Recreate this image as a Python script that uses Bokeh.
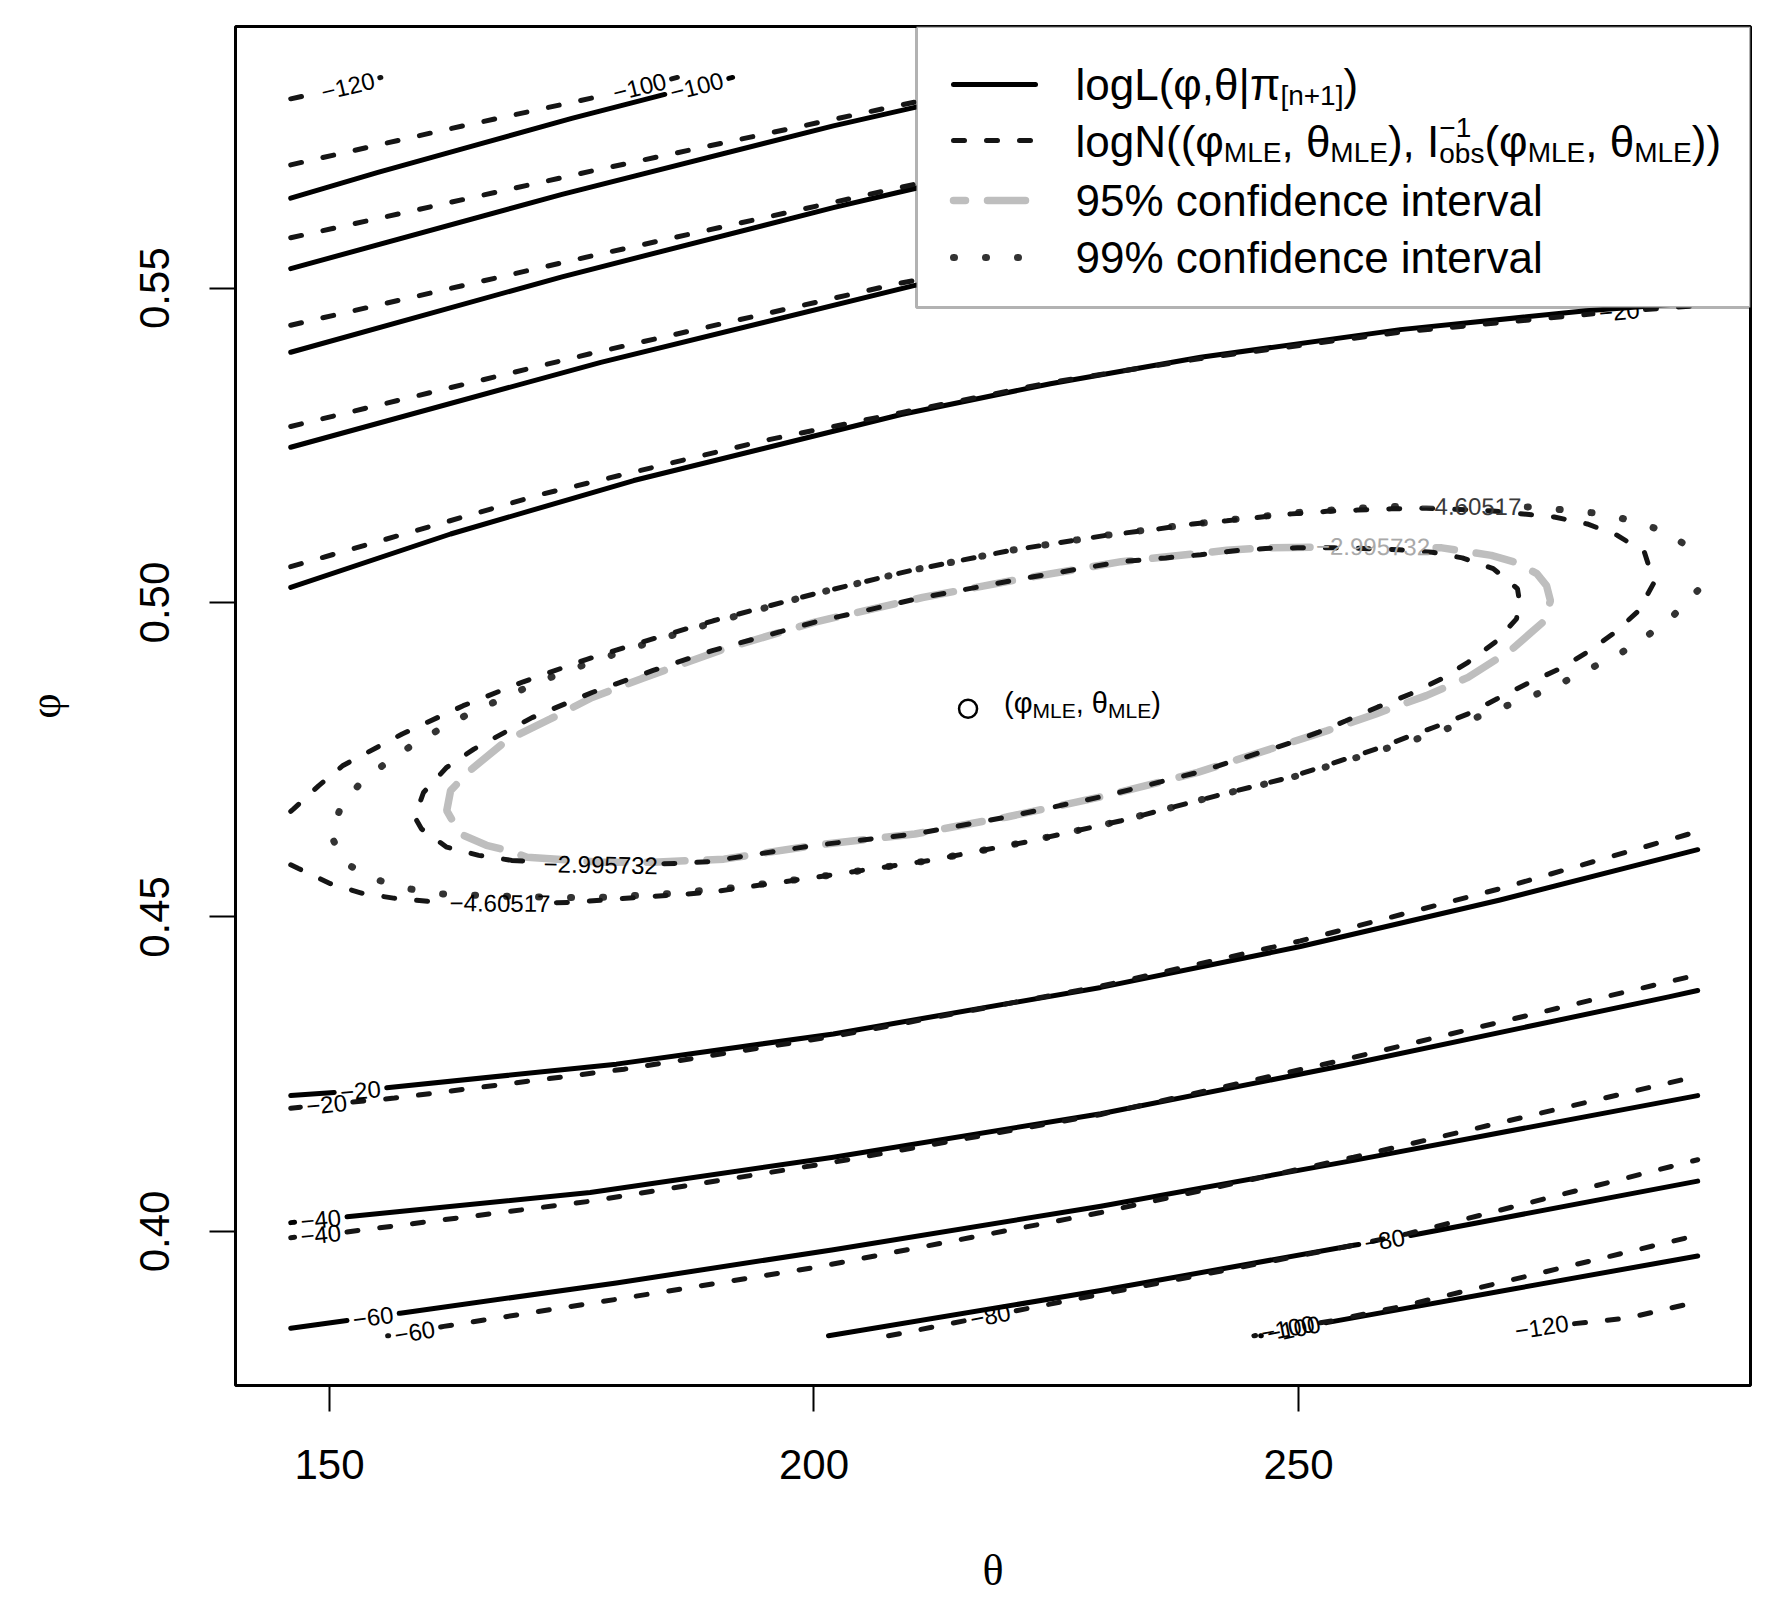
import math
import numpy as np
from bokeh.plotting import figure
from bokeh.models import Range1d, FixedTicker, NumeralTickFormatter, BoxAnnotation, ColumnDataSource
from bokeh.core.properties import value
from bokeh.embed import file_html
from bokeh.resources import INLINE

# ---------------- values ----------------
theta_ticks = [150, 200, 250]
phi_ticks = [0.40, 0.45, 0.50, 0.55]

theta_mle = [215.9]
phi_mle = [0.4831]

# upper family of contours (logL solid, logN dashed)
logN_m120_up_theta = [146.0, 151.9, 155.3]
logN_m120_up_phi = [0.5801, 0.5821, 0.5835]
logL_m100_up_theta = [146.0, 155.0, 165.0, 175.0, 184.1, 187.9, 191.6]
logL_m100_up_phi = [0.5643, 0.5684, 0.5727, 0.5770, 0.5806, 0.5821, 0.5835]
logN_m100_up_theta = [146.0, 162.0, 178.2, 182.0, 185.9]
logN_m100_up_phi = [0.5696, 0.5752, 0.5806, 0.5820, 0.5835]
logL_m80_up_theta = [146.0, 174.0, 202.0, 210.3, 224.0]
logL_m80_up_phi = [0.5531, 0.5649, 0.5758, 0.5787, 0.5835]
logN_m80_up_theta = [146.0, 177.0, 208.9, 223.0]
logN_m80_up_phi = [0.5580, 0.5686, 0.5791, 0.5835]
logL_m60_up_theta = [146.0, 174.0, 202.0, 210.3, 235.0, 262.0]
logL_m60_up_phi = [0.5398, 0.5518, 0.5628, 0.5658, 0.5745, 0.5835]
logN_m60_up_theta = [146.0, 177.0, 208.9, 235.0, 263.0]
logN_m60_up_phi = [0.5441, 0.5551, 0.5660, 0.5750, 0.5835]
logL_m40_up_theta = [146.0, 178.0, 210.3, 250.0, 291.2]
logL_m40_up_phi = [0.5247, 0.5382, 0.5504, 0.5620, 0.5720]
logN_m40_up_theta = [146.0, 177.0, 208.9, 250.0, 291.2]
logN_m40_up_phi = [0.5280, 0.5396, 0.5508, 0.5625, 0.5730]
logL_m20_up_theta = [146.0, 162.5, 181.4, 209.0, 224.4, 239.9, 260.5, 279.7, 291.2]
logL_m20_up_phi = [0.5024, 0.5109, 0.5194, 0.5299, 0.5348, 0.5390, 0.5434, 0.5464, 0.5477]
logN_m20_up_theta = [146.0, 172.1, 195.0, 209.0, 224.4, 239.9, 260.5, 283.1, 291.2]
logN_m20_up_phi = [0.5057, 0.5173, 0.5258, 0.5302, 0.5350, 0.5388, 0.5430, 0.5463, 0.5472]

# lower family
logL_m20_lo_theta = [146.0, 153.2, 179.6, 202.0, 229.6, 250.2, 270.8, 291.2]
logL_m20_lo_phi = [0.4216, 0.4224, 0.4266, 0.4314, 0.4388, 0.4453, 0.4527, 0.4607]
logN_m20_lo_theta = [146.0, 149.7, 156.7, 180.4, 202.0, 229.6, 250.2, 270.8, 291.2]
logN_m20_lo_phi = [0.4196, 0.4202, 0.4212, 0.4258, 0.4310, 0.4390, 0.4462, 0.4545, 0.4636]
logL_m40_lo_theta = [146.0, 149.1, 151.7, 176.9, 202.0, 229.6, 254.4, 288.2, 291.2]
logL_m40_lo_phi = [0.4014, 0.4019, 0.4023, 0.4062, 0.4118, 0.4187, 0.4263, 0.4373, 0.4383]
logN_m40_lo_theta = [146.0, 149.1, 151.7, 176.9, 202.0, 229.6, 254.4, 280.0, 291.2]
logN_m40_lo_phi = [0.3990, 0.3995, 0.3999, 0.4048, 0.4110, 0.4186, 0.4272, 0.4367, 0.4408]
logL_m60_lo_theta = [146.0, 154.5, 157.3, 179.6, 202.0, 229.6, 255.7, 291.2]
logL_m60_lo_phi = [0.3846, 0.3864, 0.3870, 0.3918, 0.3971, 0.4040, 0.4113, 0.4216]
logN_m60_lo_theta = [156.0, 158.8, 161.8, 180.0, 200.2, 229.6, 255.7, 291.2]
logN_m60_lo_phi = [0.3834, 0.3840, 0.3849, 0.3893, 0.3943, 0.4030, 0.4118, 0.4247]
logL_m80_lo_theta = [201.5, 229.6, 255.7, 258.9, 261.7, 291.2]
logL_m80_lo_phi = [0.3834, 0.3906, 0.3978, 0.3986, 0.3994, 0.4080]
logN_m80_lo_theta = [207.7, 218.2, 229.6, 255.7, 261.2, 291.2]
logN_m80_lo_phi = [0.3834, 0.3866, 0.3900, 0.3978, 0.3996, 0.4114]
logL_m100_lo_theta = [246.1, 249.5, 252.9, 272.0, 291.2]
logL_m100_lo_phi = [0.3834, 0.3845, 0.3855, 0.3908, 0.3961]
logN_m100_lo_theta = [245.4, 248.9, 253.5, 260.4, 291.2]
logN_m100_lo_phi = [0.3834, 0.3846, 0.3858, 0.3880, 0.3994]
logN_m120_lo_theta = [272.0, 275.1, 283.9, 291.2]
logN_m120_lo_phi = [0.3834, 0.3848, 0.3862, 0.3888]

# confidence contours
logN_95_theta = [168.8, 178.0, 185.8, 189.1, 200.1, 210.4, 219.9, 230.2, 239.6, 249.0,
                 252.1, 254.9, 258.2, 261.6, 264.8, 267.5, 270.3, 272.5, 272.8, 272.6,
                 270.1, 266.9, 263.8, 260.4, 256.7, 253.7, 249.9, 246.6, 243.2, 239.9,
                 236.3, 231.7, 221.5, 211.2, 200.1, 189.6, 183.4, 177.1, 170.9, 164.9,
                 162.1, 159.7, 158.8, 159.5, 162.1, 165.4, 168.8]
logN_95_phi = [0.4590, 0.4583, 0.4585, 0.4588, 0.4614, 0.4632, 0.4659, 0.4693, 0.4730, 0.4776,
               0.4794, 0.4812, 0.4834, 0.4855, 0.4879, 0.4905, 0.4937, 0.4974, 0.5003, 0.5022,
               0.5054, 0.5071, 0.5080, 0.5084, 0.5086, 0.5087, 0.5087, 0.5086, 0.5082, 0.5076,
               0.5071, 0.5065, 0.5038, 0.5008, 0.4969, 0.4924, 0.4892, 0.4857, 0.4817, 0.4767,
               0.4738, 0.4698, 0.4659, 0.4640, 0.4611, 0.4598, 0.4590]

logL_95_theta = [170.4, 178.0, 183.4, 190.7, 200.1, 210.4, 219.9, 230.2, 239.6, 249.3,
                 252.9, 258.0, 263.2, 267.5, 271.9, 273.9, 275.4, 276.0, 275.6, 274.6,
                 272.4, 269.9, 264.8, 257.7, 252.3, 246.6, 242.6, 235.9, 231.7, 221.5,
                 211.2, 200.1, 190.7, 182.2, 177.1, 172.8, 168.3, 164.5, 162.5, 162.1,
                 163.5, 166.2, 168.3, 170.4]
logL_95_phi = [0.4595, 0.4587, 0.4587, 0.4592, 0.4614, 0.4632, 0.4659, 0.4693, 0.4730, 0.4778,
               0.4796, 0.4823, 0.4852, 0.4881, 0.4924, 0.4951, 0.4971, 0.5003, 0.5027, 0.5046,
               0.5064, 0.5075, 0.5087, 0.5089, 0.5088, 0.5087, 0.5083, 0.5072, 0.5065, 0.5038,
               0.5008, 0.4969, 0.4926, 0.4879, 0.4849, 0.4815, 0.4781, 0.4733, 0.4701, 0.4669,
               0.4632, 0.4614, 0.4606, 0.4595]

logN_99_theta = [146.0, 146.8, 150.1, 153.3, 156.6, 160.2, 167.6, 174.8, 181.7, 189.1,
                 200.1, 212.0, 221.8, 231.7, 241.6, 249.1, 258.0, 261.2, 264.4, 267.5,
                 270.5, 273.6, 277.0, 279.8, 282.7, 285.1, 286.7, 285.7, 282.9, 279.8,
                 276.4, 269.8, 263.2, 259.6, 256.1, 252.9, 249.3, 246.2, 242.6, 239.1,
                 235.5, 230.2, 220.3, 210.0, 200.1, 189.6, 183.1, 176.4, 170.0, 163.8,
                 157.5, 151.4, 148.9, 146.3, 146.0]
logN_99_phi = [0.4583, 0.4577, 0.4553, 0.4538, 0.4530, 0.4525, 0.4522, 0.4523, 0.4531, 0.4539,
               0.4563, 0.4590, 0.4619, 0.4653, 0.4693, 0.4722, 0.4767, 0.4786, 0.4804, 0.4823,
               0.4847, 0.4871, 0.4895, 0.4921, 0.4953, 0.4987, 0.5032, 0.5080, 0.5107, 0.5125,
               0.5136, 0.5146, 0.5150, 0.5149, 0.5147, 0.5145, 0.5141, 0.5136, 0.5130, 0.5125,
               0.5117, 0.5107, 0.5083, 0.5051, 0.5014, 0.4971, 0.4941, 0.4909, 0.4874, 0.4836,
               0.4791, 0.4741, 0.4709, 0.4672, 0.4668]

logL_99_theta = [291.2, 288.6, 285.9, 283.1, 280.1, 277.0, 273.8, 270.6, 267.5, 264.4,
                 261.2, 258.0, 249.1, 241.6, 231.7, 221.8, 212.0, 200.1, 191.4, 184.8,
                 177.9, 174.7, 167.7, 161.1, 157.8, 154.5, 151.6, 150.1, 151.3, 153.5,
                 156.3, 159.0, 161.9, 165.0, 168.1, 171.2, 174.3, 177.6, 180.7, 184.0,
                 187.2, 190.5, 200.1, 210.0, 220.3, 230.2, 237.1, 243.8, 250.5, 257.2,
                 260.6, 267.8, 274.4, 278.2, 281.5, 284.9, 288.0, 291.2]
logL_99_phi = [0.5019, 0.4978, 0.4946, 0.4918, 0.4895, 0.4871, 0.4849, 0.4831, 0.4812, 0.4794,
               0.4778, 0.4763, 0.4721, 0.4693, 0.4653, 0.4619, 0.4590, 0.4563, 0.4546, 0.4537,
               0.4531, 0.4531, 0.4533, 0.4537, 0.4546, 0.4561, 0.4586, 0.4631, 0.4680, 0.4718,
               0.4750, 0.4778, 0.4803, 0.4828, 0.4849, 0.4871, 0.4890, 0.4908, 0.4925, 0.4941,
               0.4957, 0.4972, 0.5014, 0.5051, 0.5083, 0.5107, 0.5121, 0.5133, 0.5144, 0.5151,
               0.5153, 0.5153, 0.5152, 0.5146, 0.5141, 0.5128, 0.5112, 0.5078]

# (theta, phi, kind, label text, index of vertex carrying the label)
contours = [
    (logL_m100_up_theta, logL_m100_up_phi, "logL", "\u2212100", 5),
    (logL_m80_up_theta, logL_m80_up_phi, "logL", None, None),
    (logL_m60_up_theta, logL_m60_up_phi, "logL", None, None),
    (logL_m40_up_theta, logL_m40_up_phi, "logL", None, None),
    (logL_m20_up_theta, logL_m20_up_phi, "logL", None, None),
    (logL_m20_lo_theta, logL_m20_lo_phi, "logL", "\u221220", 1),
    (logL_m40_lo_theta, logL_m40_lo_phi, "logL", "\u221240", 1),
    (logL_m60_lo_theta, logL_m60_lo_phi, "logL", "\u221260", 1),
    (logL_m80_lo_theta, logL_m80_lo_phi, "logL", "\u221280", 3),
    (logL_m100_lo_theta, logL_m100_lo_phi, "logL", "\u2212100", 1),
    (logL_95_theta, logL_95_phi, "ci95", "\u22122.995732", 23),
    (logL_99_theta, logL_99_phi, "ci99", "\u22124.60517", 51),
    (logN_m120_up_theta, logN_m120_up_phi, "logN", "\u2212120", 1),
    (logN_m100_up_theta, logN_m100_up_phi, "logN", "\u2212100", 3),
    (logN_m80_up_theta, logN_m80_up_phi, "logN", None, None),
    (logN_m60_up_theta, logN_m60_up_phi, "logN", None, None),
    (logN_m40_up_theta, logN_m40_up_phi, "logN", None, None),
    (logN_m20_up_theta, logN_m20_up_phi, "logN", "\u221220", 7),
    (logN_m20_lo_theta, logN_m20_lo_phi, "logN", "\u221220", 1),
    (logN_m40_lo_theta, logN_m40_lo_phi, "logN", "\u221240", 1),
    (logN_m60_lo_theta, logN_m60_lo_phi, "logN", "\u221260", 1),
    (logN_m80_lo_theta, logN_m80_lo_phi, "logN", "\u221280", 1),
    (logN_m100_lo_theta, logN_m100_lo_phi, "logN", "\u2212100", 1),
    (logN_m120_lo_theta, logN_m120_lo_phi, "logN", "\u2212120", 1),
    (logN_95_theta, logN_95_phi, "logN", "\u22122.995732", 1),
    (logN_99_theta, logN_99_phi, "logN", "\u22124.60517", 6),
]

# ---------------- layout ----------------
FONT = "Liberation Sans"
X0, X1 = 140.3, 296.65
Y0, Y1 = 0.3755, 0.5916
W_FIG, H_FIG = 1777, 1598
B_LEFT, B_RIGHT, B_TOP, B_BOTTOM = 235, 27, 26, 213
FW = W_FIG - B_LEFT - B_RIGHT
FH = H_FIG - B_TOP - B_BOTTOM
KX = FW / (X1 - X0)
KY = FH / (Y1 - Y0)


def fx(px):
    return X0 + px / KX


def fy(py):
    return Y1 - py / KY


CW = {' ': 278, '(': 333, ')': 333, ',': 278, '.': 278, '-': 333, '\u2212': 584, '[': 278, ']': 278,
      '|': 260, '+': 584, '%': 889, 'a': 556, 'b': 556, 'c': 500, 'd': 556, 'e': 556, 'f': 278,
      'g': 556, 'i': 222, 'l': 222, 'n': 556, 'o': 556, 'r': 333, 's': 500, 't': 278, 'v': 500,
      'E': 667, 'I': 278, 'L': 556, 'M': 833, 'N': 722, '\u03c6': 650, '\u03b8': 556, '\u03c0': 690}


def text_width(s, size):
    return sum(CW.get(c, 556) for c in s) / 1000.0 * size


STYLE = {
    "logL": dict(line_color="black", line_width=5, line_cap="round", line_join="round"),
    "logN": dict(line_color="#151515", line_width=5, line_dash="11 22", line_cap="round"),
    "ci95": dict(line_color="#BEBEBE", line_width=7.5, line_dash="38 22", line_cap="round"),
    "ci99": dict(line_color="#333333", line_width=7, line_dash="1 31", line_cap="round"),
}
LABEL_COLOR = {"logL": "black", "logN": "black", "ci95": "#A9A9A9", "ci99": "#3A3A3A"}
LABEL_SIZE = 24


def split_for_label(th, ph, idx, gap):
    sx = [t * KX for t in th]
    sy = [v * KY for v in ph]
    s = [0.0]
    for i in range(1, len(th)):
        s.append(s[-1] + math.hypot(sx[i] - sx[i - 1], sy[i] - sy[i - 1]))
    a, b = s[idx] - gap / 2.0, s[idx] + gap / 2.0

    def at(target):
        for i in range(1, len(s)):
            if s[i] >= target:
                f = (target - s[i - 1]) / (s[i] - s[i - 1]) if s[i] > s[i - 1] else 0.0
                return th[i - 1] + f * (th[i] - th[i - 1]), ph[i - 1] + f * (ph[i] - ph[i - 1])
        return th[-1], ph[-1]

    ot, op = [], []
    for i in range(len(th)):
        if s[i] < a:
            ot.append(th[i]); op.append(ph[i])
    if a > 0:
        t, v = at(a); ot.append(t); op.append(v)
    if ot and b < s[-1]:
        ot.append(float("nan")); op.append(float("nan"))
    if b < s[-1]:
        t, v = at(b); ot.append(t); op.append(v)
        for i in range(len(th)):
            if s[i] > b:
                ot.append(th[i]); op.append(ph[i])
    return np.array(ot), np.array(op)


def label_angle(th, ph, idx):
    i0 = max(idx - 1, 0)
    i1 = min(idx + 1, len(th) - 1)
    ang = math.atan2((ph[i1] - ph[i0]) * KY, (th[i1] - th[i0]) * KX)
    if ang > math.pi / 2:
        ang -= math.pi
    if ang < -math.pi / 2:
        ang += math.pi
    return ang


p = figure(width=W_FIG, height=H_FIG, x_range=Range1d(X0, X1), y_range=Range1d(Y0, Y1),
           output_backend="svg", toolbar_location=None,
           min_border_left=B_LEFT, min_border_right=B_RIGHT,
           min_border_top=B_TOP, min_border_bottom=B_BOTTOM)
p.background_fill_color = "white"
p.border_fill_color = "white"
p.xgrid.visible = False
p.ygrid.visible = False
p.outline_line_color = "black"
p.outline_line_width = 3

for ax in (p.xaxis[0], p.yaxis[0]):
    ax.axis_line_color = None
    ax.major_tick_out = 26
    ax.major_tick_in = 0
    ax.minor_tick_out = 0
    ax.minor_tick_in = 0
    ax.major_tick_line_width = 2
    ax.major_tick_line_color = "black"
    ax.major_label_text_font = FONT
    ax.major_label_text_font_size = "42px"
    ax.major_label_text_color = "black"
    ax.axis_label_text_font = "Liberation Serif"
    ax.axis_label_text_font_size = "44px"
    ax.axis_label_text_font_style = "normal"
    ax.axis_label_text_color = "black"

p.xaxis.ticker = FixedTicker(ticks=theta_ticks)
p.yaxis.ticker = FixedTicker(ticks=phi_ticks)
p.xaxis.formatter = NumeralTickFormatter(format="0")
p.yaxis.formatter = NumeralTickFormatter(format="0.00")
p.yaxis.major_label_orientation = "vertical"
p.xaxis.major_label_standoff = 38
p.yaxis.major_label_standoff = 40
p.xaxis.axis_label = "\u03b8"
p.yaxis.axis_label = "\u03c6"
p.xaxis.axis_label_standoff = 64
p.yaxis.axis_label_standoff = 68

# ---------------- contours ----------------
lab = dict(x=[], y=[], text=[], angle=[], color=[])
order = {"logL": 0, "ci95": 1, "ci99": 2, "logN": 3}
for th, ph, kind, txt, li in sorted(contours, key=lambda c: order[c[2]]):
    assert len(th) == len(ph)
    if txt is not None:
        gap = text_width(txt, LABEL_SIZE) + 12
        xs, ys = split_for_label(th, ph, li, gap)
        lab["x"].append(th[li]); lab["y"].append(ph[li]); lab["text"].append(txt)
        lab["angle"].append(label_angle(th, ph, li)); lab["color"].append(LABEL_COLOR[kind])
    else:
        xs, ys = np.array(th), np.array(ph)
    p.line(xs, ys, **STYLE[kind])

p.text(x="x", y="y", text="text", angle="angle", text_color="color",
       source=ColumnDataSource(lab), text_font=value(FONT), text_font_size=f"{LABEL_SIZE}px",
       text_align="center", text_baseline="middle")

# MLE point and its label
p.scatter(theta_mle, phi_mle, marker="circle", size=18, fill_color=None,
          line_color="black", line_width=2.5)


def pieces_at(px, py, pieces):
    """pieces: list of (text, size, dy) or ('STACK', [(text,size,dy),...])"""
    for pc in pieces:
        if pc[0] == "STACK":
            wmax = 0
            for t, sz, dy in pc[1]:
                p.text(x=[fx(px)], y=[fy(py + dy)], text=[t], text_font=value(FONT),
                       text_font_size=f"{sz}px", text_align="left", text_baseline="middle",
                       text_color="black", level="overlay")
                wmax = max(wmax, text_width(t, sz))
            px += wmax
        else:
            t, sz, dy = pc
            p.text(x=[fx(px)], y=[fy(py + dy)], text=[t], text_font=value(FONT),
                   text_font_size=f"{sz}px", text_align="left", text_baseline="middle",
                   text_color="black", level="overlay")
            px += text_width(t, sz)


mle_px = (theta_mle[0] - X0) * KX
mle_py = (Y1 - phi_mle[0]) * KY
pieces_at(mle_px + 36, mle_py - 6, [("(\u03c6", 29, 0), ("MLE", 21, 8), (", \u03b8", 29, 0),
                                     ("MLE", 21, 8), (")", 29, 0)])

# ---------------- legend (top right, flush with frame) ----------------
LEG_LEFT, LEG_BOTTOM = 681, 281
p.add_layout(BoxAnnotation(left=fx(LEG_LEFT), right=X1, top=Y1, bottom=fy(LEG_BOTTOM),
                           fill_color="white", fill_alpha=1.0, line_color="black", line_width=3))
KEY_X0, KEY_X1, TXT_X = 718, 800, 840
rows_key_y = [58.0, 114.0, 174.0, 231.0]
rows_txt_y = [58.0, 115.0, 174.0, 231.0]
key_styles = [STYLE["logL"], STYLE["logN"], dict(STYLE["ci95"], line_dash_offset=26), STYLE["ci99"]]
for ky, st in zip(rows_key_y, key_styles):
    p.line([fx(KEY_X0), fx(KEY_X1)], [fy(ky), fy(ky)], level="overlay", **st)

M, S = 44, 28
pieces_at(TXT_X, rows_txt_y[0], [("logL(\u03c6,\u03b8|\u03c0", M, 0), ("[n+1]", S, 11), (")", M, 0)])
pieces_at(TXT_X, rows_txt_y[1], [("logN((\u03c6", M, 0), ("MLE", S, 11), (", \u03b8", M, 0),
                                 ("MLE", S, 11), ("), I", M, 0),
                                 ("STACK", [("\u22121", S, -14), ("obs", S, 12)]),
                                 ("(\u03c6", M, 0), ("MLE", S, 11), (", \u03b8", M, 0),
                                 ("MLE", S, 11), ("))", M, 0)])
pieces_at(TXT_X, rows_txt_y[2], [("95% confidence interval", M, 0)])
pieces_at(TXT_X, rows_txt_y[3], [("99% confidence interval", M, 0)])

open("out.html", "w").write(file_html(p, INLINE))
